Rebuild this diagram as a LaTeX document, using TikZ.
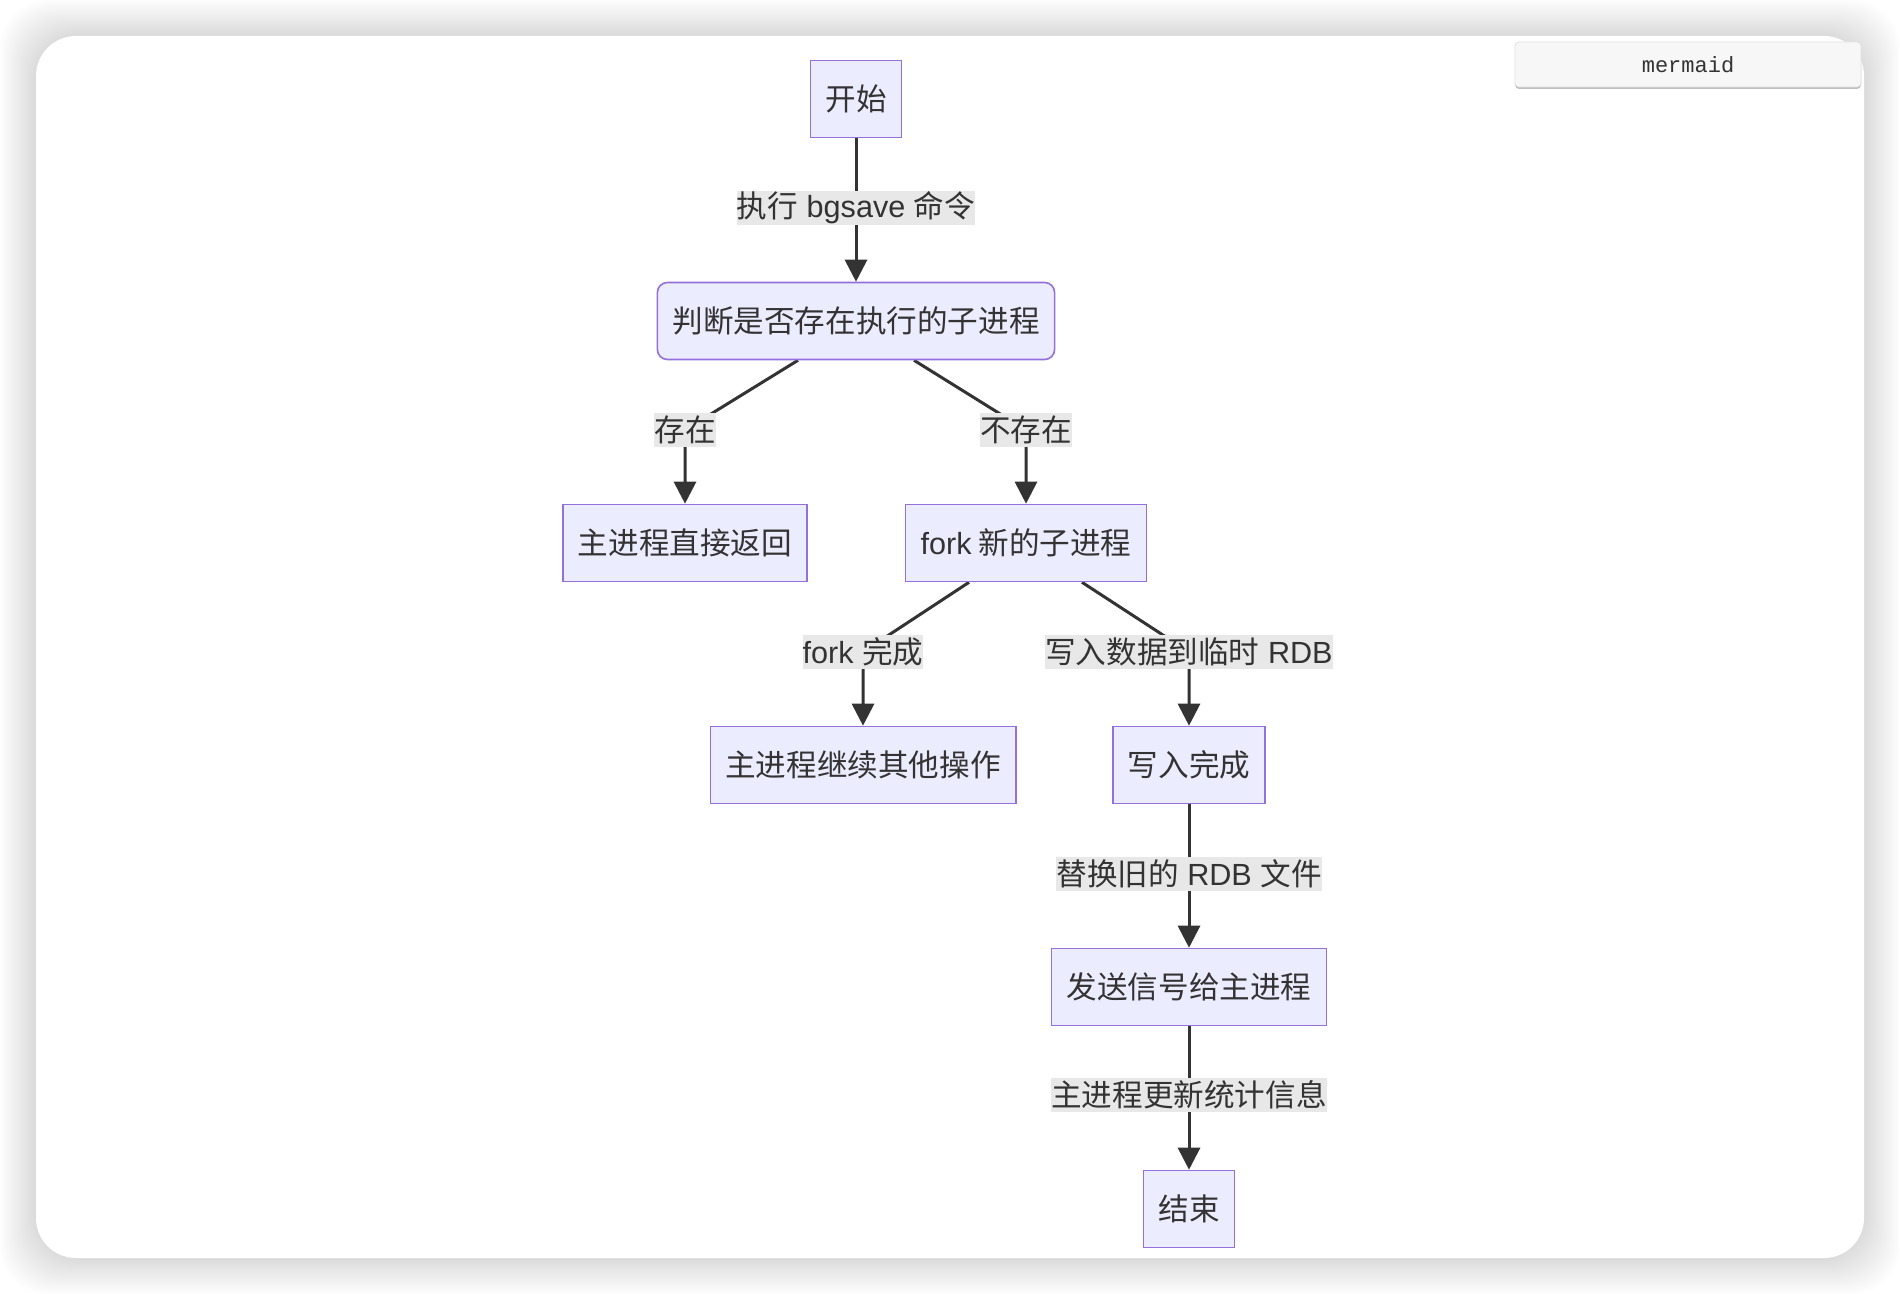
\documentclass[tikz,border=0pt]{standalone}
\usepackage{fontspec}
\setmainfont{Noto Sans CJK SC}
\newfontfamily\lat{Liberation Sans}
\newfontfamily\monof{Liberation Mono}
\usetikzlibrary{arrows.meta}
\definecolor{nodefill}{HTML}{ECECFF}
\definecolor{nodeline}{HTML}{9370DB}
\definecolor{txt}{HTML}{333333}
\definecolor{lblbg}{HTML}{E8E8E8}
\definecolor{btnfill}{HTML}{F7F7F7}
\definecolor{btnline}{HTML}{E2E2E2}
\pgfdeclarelayer{back}
\pgfdeclarelayer{bg}
\pgfsetlayers{back,bg,main}
\begin{document}
\begin{tikzpicture}[x=0.5pt,y=-0.5pt,
  box/.style={draw=nodeline,fill=nodefill,line width=0.8pt,minimum height=38.5pt,
    inner xsep=7.5pt,inner ysep=0pt,text=txt,font=\fontsize{15.3}{18}\selectfont},
  rbox/.style={box,rounded corners=5pt},
  lbl/.style={fill=lblbg,inner xsep=0pt,inner ysep=0pt,minimum height=17pt,
    text=txt,font=\fontsize{15.3}{18}\selectfont},
  edge/.style={draw=txt,line width=1.5pt,-{Triangle[length=11pt,width=11pt]}}]
\useasboundingbox (0,0) rectangle (1900,1294);
\begin{pgfonlayer}{back}
\fill[white] (0,0) rectangle (1900,1294);
% card shadow
\foreach \i in {1,...,18}{
  \fill[black,opacity=0.009,rounded corners=24pt] (36-2*\i,36-2*\i) rectangle (1864+2*\i,1258+2*\i);
}
\fill[white,rounded corners=20pt] (36,36) rectangle (1864,1258);
\end{pgfonlayer}
% mermaid button
\fill[black!25,rounded corners=2pt] (1515,44) rectangle (1861,89);
\node[draw=btnline,fill=btnfill,rounded corners=2pt,minimum width=173pt,minimum height=22.5pt,
  inner sep=0pt,text=txt,font=\monof\fontsize{11}{13}\selectfont] (btn) at (1688,64.5) {mermaid};
% nodes
\node[box]  (start) at (856,99)   {开始};
\node[rbox] (judge) at (856,321)  {判断是否存在执行的子进程};
\node[box]  (ret)   at (685,543)  {主进程直接返回};
\node[box]  (fork)  at (1026,543) {{\lat fork} 新的子进程};
\node[box]  (cont)  at (863,765)  {主进程继续其他操作};
\node[box]  (wdone) at (1189,765) {写入完成};
\node[box]  (sig)   at (1189,987) {发送信号给主进程};
\node[box]  (fin)   at (1189,1209){结束};
% labels
\node[lbl] (l1) at (856,208)  {执行{\lat{} bgsave }命令};
\node[lbl] (l2) at (685,430)  {存在};
\node[lbl] (l3) at (1026,430) {不存在};
\node[lbl] (l4) at (863,652)  {{\lat fork }完成};
\node[lbl] (l5) at (1189,652) {写入数据到临时{\lat{} RDB}};
\node[lbl] (l6) at (1189,874) {替换旧的{\lat{} RDB }文件};
\node[lbl] (l7) at (1189,1095){主进程更新统计信息};
% edges
\begin{pgfonlayer}{bg}
\draw[edge] (start.south) -- (l1.center) -- (judge.north);
\draw[edge] ([xshift=-29pt]judge.south) -- (l2.center) -- (ret.north);
\draw[edge] ([xshift=29pt]judge.south) -- (l3.center) -- (fork.north);
\draw[edge] ([xshift=-28.5pt]fork.south) -- (l4.center) -- (cont.north);
\draw[edge] ([xshift=28pt]fork.south) -- (l5.center) -- (wdone.north);
\draw[edge] (wdone.south) -- (l6.center) -- (sig.north);
\draw[edge] (sig.south) -- (l7.center) -- (fin.north);
\end{pgfonlayer}
\end{tikzpicture}
\end{document}
